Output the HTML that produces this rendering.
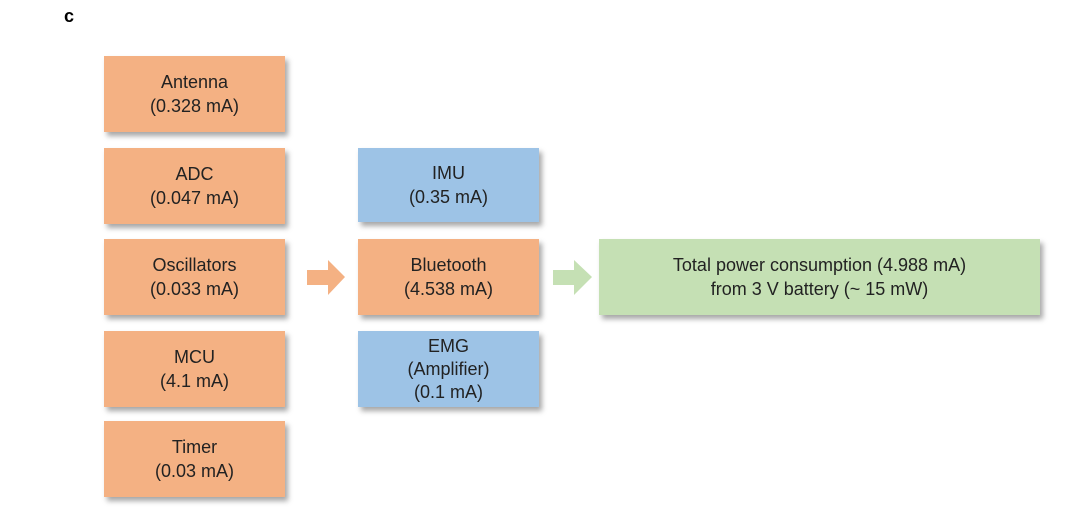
<!DOCTYPE html>
<html><head><style>
body{margin:0;width:1080px;height:507px;background:#fff;position:relative;overflow:hidden;font-family:"Liberation Sans",sans-serif;}
.b{position:absolute;display:flex;align-items:center;justify-content:center;text-align:center;font-size:18px;line-height:24px;color:#222;box-shadow:3px 4px 5px rgba(0,0,0,0.35);}
.o{background:#f4b183;}
.u{background:#9dc3e6;}
.g{background:#c5e0b4;}
.c{position:absolute;left:64px;top:6px;font-weight:bold;font-size:18px;}
svg{position:absolute;left:0;top:0;}
</style></head><body>
<div class="c">c</div>
<div class="b o" style="left:104px;top:56px;width:181px;height:76px">Antenna<br>(0.328 mA)</div>
<div class="b o" style="left:104px;top:148px;width:181px;height:76px">ADC<br>(0.047 mA)</div>
<div class="b o" style="left:104px;top:239px;width:181px;height:76px">Oscillators<br>(0.033 mA)</div>
<div class="b o" style="left:104px;top:331px;width:181px;height:76px">MCU<br>(4.1 mA)</div>
<div class="b o" style="left:104px;top:421px;width:181px;height:76px">Timer<br>(0.03 mA)</div>
<div class="b u" style="left:358px;top:148px;width:181px;height:74px">IMU<br>(0.35 mA)</div>
<div class="b o" style="left:358px;top:239px;width:181px;height:76px">Bluetooth<br>(4.538 mA)</div>
<div class="b u" style="left:358px;top:331px;width:181px;height:76px;line-height:23px">EMG<br>(Amplifier)<br>(0.1 mA)</div>
<div class="b g" style="left:599px;top:239px;width:441px;height:76px">Total power consumption (4.988 mA)<br>from 3 V battery (~ 15 mW)</div>
<svg width="1080" height="507">
<polygon points="307,270 328,270 328,260 345,277 328,295 328,285 307,285" fill="#f4b183"/>
<polygon points="553,270 574,270 574,260 592,277 574,295 574,285 553,285" fill="#c5e0b4"/>
</svg>
</body></html>
